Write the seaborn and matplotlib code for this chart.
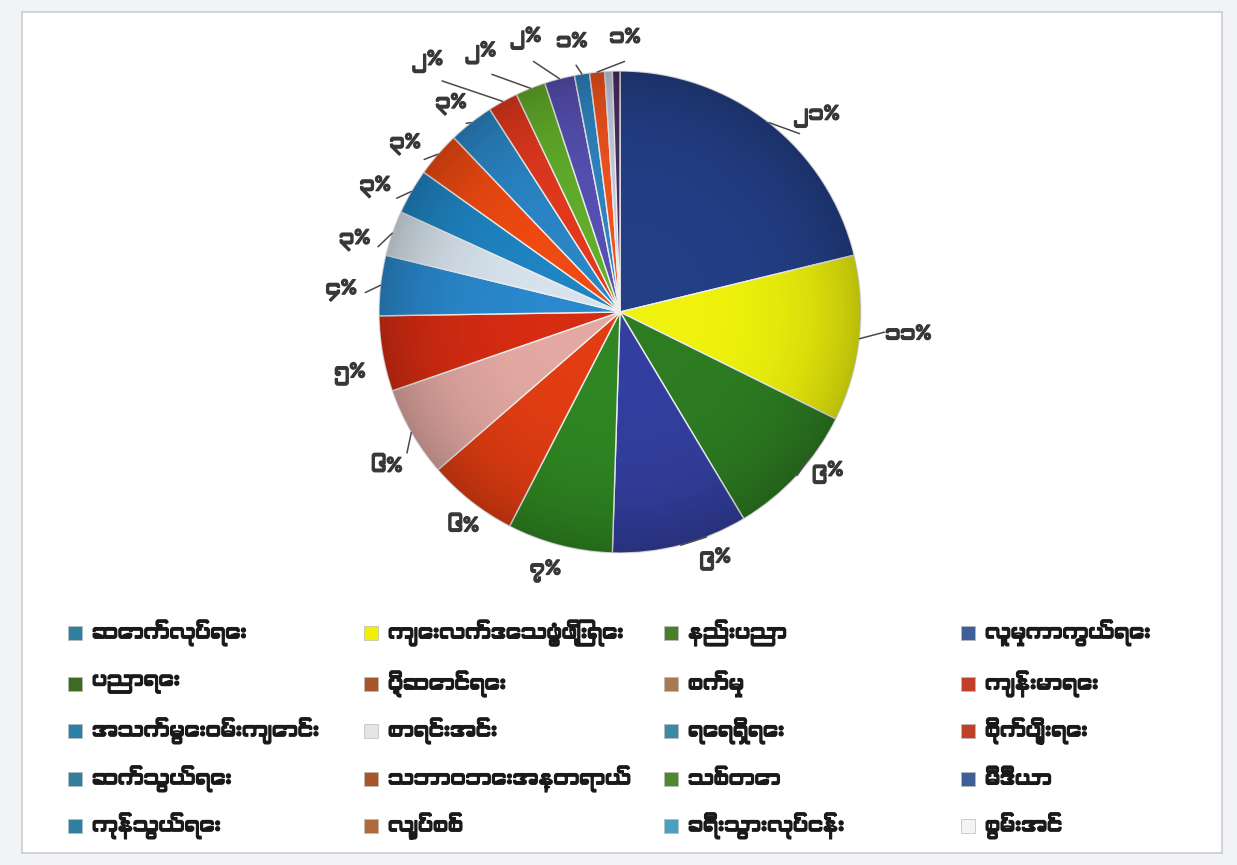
# ကဏ္ဍအလိုက် ရာခိုင်နှုန်း - pie chart
import numpy as np
import matplotlib
matplotlib.use("Agg")
import matplotlib.pyplot as plt
import matplotlib.patheffects as pe
from matplotlib.patches import Rectangle
import seaborn as sns

# Datos
sectores = ["ဆောက်လုပ်ရေး", "ကျေးလက်ဒေသဖွံ့ဖြိုးရေး", "နည်းပညာ", "လူမှုကာကွယ်ရေး",
            "ပညာရေး", "ပို့ဆောင်ရေး", "စက်မှု", "ကျန်းမာရေး",
            "အသက်မွေးဝမ်းကျောင်း", "စာရင်းအင်း", "ရေရရှိရေး", "စိုက်ပျိုးရေး",
            "ဆက်သွယ်ရေး", "သဘာဝဘေးအန္တရာယ်", "သစ်တော", "မီဒီယာ",
            "ကုန်သွယ်ရေး", "လျှပ်စစ်", "ခရီးသွားလုပ်ငန်း", "စွမ်းအင်"]
porcentajes = [21, 11, 9, 9, 7, 6, 6, 5, 4, 3, 3, 3, 3, 2, 2, 2, 1, 1, 0.5, 0.5]
etiquetas = ["၂၁%", "၁၁%", "၉%", "၉%", "၇%", "၆%", "၆%", "၅%", "၄%", "၃%",
             "၃%", "၃%", "၃%", "၂%", "၂%", "၂%", "၁%", "၁%", "", ""]

# colores de los sectores en la torta y en la leyenda
colores = ["#233f86", "#eef20c", "#2d7c22", "#333f9e", "#2f8622", "#e23d12",
           "#e3a8a2", "#d52c12", "#2a88cc", "#d6e2ec", "#1f84c2", "#ef4a12",
           "#2b86c6", "#e2391e", "#62ad2a", "#5650b2", "#2f84c0", "#f0521e",
           "#c4cce4", "#4a2e62"]
colores_leyenda = ["#2f7f9f", "#f0f000", "#4a7f2a", "#3f5f98", "#3e6b22", "#a9572a",
                   "#a87a52", "#c0402a", "#2c7fa6", "#e4e4e4", "#3a8aa0", "#c0402a",
                   "#2f7fa0", "#a9572a", "#4f8a2a", "#3f5f98", "#2f7fa0", "#b06a3a",
                   "#4aa0c0", "#f4f4f4"]

# ajustes de las etiquetas (radio, giro en grados, linea guia)
radio_etq = [1.15, 1.2, 1.09, 1.1, 1.12, 1.1, 1.16, 1.15, 1.16, 1.14,
             1.14, 1.13, 1.11, 1.31, 1.22, 1.2, 1.14, 1.14, 1.1, 1.1]
giro_etq = [7, -2, -5, -6.5, 1.5, -2, -3.5, -3, -2, -4, -3, -3, -1, -8.5, -6.5, -4.5, -1, 6.5, 0, 0]
con_linea = [True, True, True, True, False, False, True, False, True, True,
             True, True, True, True, True, True, True, True, False, False]

sns.set_theme(style="white")
plt.rcParams["font.family"] = ["Myanmar Khyay", "Noto Sans Myanmar", "DejaVu Sans"]

W, H = 1237, 865
fig = plt.figure(figsize=(W / 100, H / 100), dpi=100, facecolor="#f2f3f5")
fondo = Rectangle((22 / W, 12 / H), 1200 / W, (H - 24) / H, transform=fig.transFigure,
                  facecolor="white", edgecolor="#c9ccd0", linewidth=1.2, zorder=-5)
fig.patches.append(fondo)

# ejes de la torta: centro (620, 312) px, radio 241 px
R = 241
lim = 1.35
lado = R * lim * 2
cx, cy = 620, H - 312
ax = fig.add_axes([(cx - lado / 2) / W, (cy - lado / 2) / H, lado / W, lado / H])
ax.set_facecolor("none")
ax.set_zorder(2)

wedges, _ = ax.pie(porcentajes, colors=colores, startangle=90, counterclock=False,
                   wedgeprops=dict(edgecolor="#eeeeee", linewidth=1.0))
ax.set_aspect("equal")
ax.axis("off")

# sombreado oscuro suave hacia el borde de la torta
for w in wedges:
    w.set_zorder(2)
yy, xx = np.mgrid[-1:1:400j, -1:1:400j]
sombra = np.zeros((400, 400, 4))
sombra[..., 3] = 0.22 * np.clip(np.hypot(xx, yy), 0, 1) ** 4
img = ax.imshow(sombra, extent=(-1, 1, -1, 1), zorder=3, origin="lower")
img.set_clip_path(plt.Circle((0, 0), 1, transform=ax.transData))
ax.set_xlim(-lim, lim)
ax.set_ylim(-lim, lim)

grueso = [pe.withStroke(linewidth=0.9, foreground="#383838")]
total = sum(porcentajes)
acum = 0
for i, v in enumerate(porcentajes):
    medio = 90 - (acum + v / 2) / total * 360
    acum += v
    if not etiquetas[i]:
        continue
    ang = np.deg2rad(medio - giro_etq[i])
    r = radio_etq[i]
    tx, ty = r * np.cos(ang), r * np.sin(ang)
    ax.text(tx, ty, etiquetas[i], ha="center", va="center", fontsize=15,
            color="#383838", zorder=5, path_effects=grueso)
    if con_linea[i]:
        a0 = np.deg2rad(medio)
        x0, y0 = 1.0 * np.cos(a0), 1.0 * np.sin(a0)
        x1, y1 = (r - 0.1) * np.cos(ang), (r - 0.1) * np.sin(ang)
        ax.plot([x0, x1], [y0, y1], color="#4a4a4a", linewidth=1.1, zorder=4)

# leyenda en cuadricula 5 x 4
fila_y = [633, 684, 731, 779, 826]
col_x = [68, 364, 664, 961]
negrita = [pe.withStroke(linewidth=0.8, foreground="#1a1a1a")]
for i, nombre in enumerate(sectores):
    fila, col = divmod(i, 4)
    x, y = col_x[col], H - fila_y[fila]
    fig.patches.append(Rectangle((x / W, (y - 7) / H), 14 / W, 14 / H, transform=fig.transFigure,
                                 facecolor=colores_leyenda[i], edgecolor="#bbbbbb", linewidth=0.5))
    fig.text((x + 24) / W, y / H, nombre, ha="left", va="center", fontsize=15,
             color="#1a1a1a", path_effects=negrita)

fig.savefig("out.png", dpi=100, facecolor=fig.get_facecolor())
